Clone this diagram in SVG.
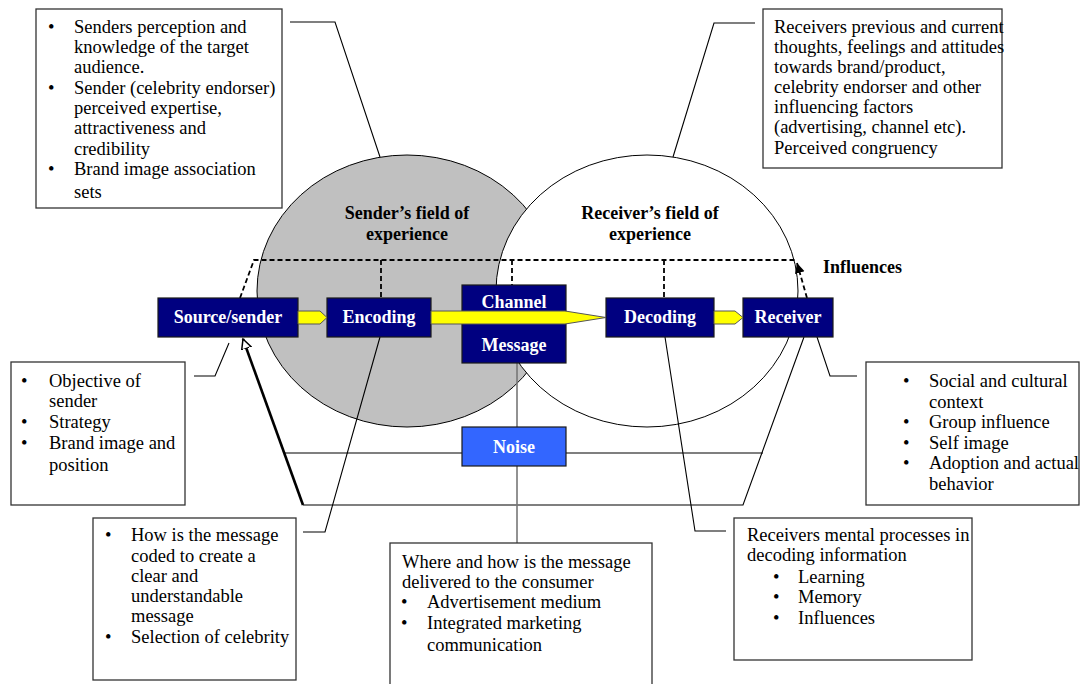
<svg xmlns="http://www.w3.org/2000/svg" width="1081" height="684" viewBox="0 0 1081 684">
<style>
.box{fill:#fff;stroke:#333;stroke-width:1.3}
.t{font-family:"Liberation Serif","Times New Roman",serif;font-size:18.5px;fill:#000}
.b{font-family:"Liberation Serif","Times New Roman",serif;font-size:18px;font-weight:bold;fill:#000}
.nt{font-family:"Liberation Serif","Times New Roman",serif;font-size:18px;font-weight:bold;fill:#fff;text-anchor:middle}
.node{fill:#000080;stroke:#1a1a1a;stroke-width:1.2}
.ln{fill:none;stroke:#000;stroke-width:1.1}
.dash{fill:none;stroke:#000;stroke-width:1.8;stroke-dasharray:5 3}
.yel{fill:#FFFF00;stroke:#555;stroke-width:1}
</style>
<defs>
<marker id="open" markerWidth="12" markerHeight="12" refX="10" refY="5" orient="auto" markerUnits="userSpaceOnUse">
<path d="M0,0 L10,5 L0,10 Z" fill="#fff" stroke="#000" stroke-width="1.5"/>
</marker>
<marker id="solid" markerWidth="12" markerHeight="12" refX="10" refY="5" orient="auto" markerUnits="userSpaceOnUse">
<path d="M0,0 L10,5 L0,10 Z" fill="#000"/>
</marker>
</defs>
<rect width="1081" height="684" fill="#fff"/>

<g id="fields">
<ellipse cx="407" cy="291" rx="150" ry="136" fill="#C0C0C0" stroke="#000" stroke-width="1"/>
<ellipse cx="647" cy="291" rx="151" ry="136" fill="#fff" stroke="#000" stroke-width="1"/>
<text class="b" x="407" y="219" text-anchor="middle">Sender’s field of</text>
<text class="b" x="407" y="240" text-anchor="middle">experience</text>
<text class="b" x="650" y="219" text-anchor="middle">Receiver’s field of</text>
<text class="b" x="650" y="240" text-anchor="middle">experience</text>
</g>

<g id="connectors">
<polyline class="ln" points="290,22 335,22 380,157"/>
<polyline class="ln" points="755,23 714,23 673,157"/>
<polyline class="ln" points="194,376 215,376 229,343"/>
<polyline class="ln" points="380,337 325,532 303,532"/>
<polyline class="ln" points="665,337 695,531 726,531"/>
<polyline class="ln" points="817,337 830,376 857,376"/>
<polyline class="ln" points="804,337 743,505 303,505"/>
<line class="ln" x1="284" y1="453" x2="462" y2="453"/>
<line class="ln" x1="566" y1="453" x2="763" y2="453"/>
<line x1="517" y1="363" x2="517" y2="543" stroke="#777" stroke-width="1.6"/>
<line x1="303" y1="505" x2="243" y2="339" stroke="#000" stroke-width="2.6" marker-end="url(#open)"/>
<polyline class="dash" points="240,298 254,260 796,260"/>
<line class="dash" x1="381" y1="260" x2="381" y2="298"/>
<line class="dash" x1="512" y1="260" x2="512" y2="285"/>
<line class="dash" x1="664" y1="260" x2="664" y2="298"/>
<line class="dash" x1="807" y1="298" x2="797" y2="263" marker-end="url(#solid)"/>
<text class="b" x="823" y="273">Influences</text>
</g>

<g id="source">
<rect class="node" x="158" y="298" width="140" height="39"/>
<text class="nt" x="228" y="323">Source/sender</text>
</g>
<g id="encoding">
<rect class="node" x="327" y="298" width="104" height="39"/>
<text class="nt" x="379" y="323">Encoding</text>
</g>
<g id="channel">
<rect class="node" x="462" y="285" width="104" height="78"/>
<text class="nt" x="514" y="308">Channel</text>
<text class="nt" x="514" y="351">Message</text>
</g>
<g id="decoding">
<rect class="node" x="606" y="298" width="108" height="39"/>
<text class="nt" x="660" y="323">Decoding</text>
</g>
<g id="receiver">
<rect class="node" x="743" y="298" width="90" height="39"/>
<text class="nt" x="788" y="323">Receiver</text>
</g>
<g id="flow-arrows">
<polygon class="yel" points="298,311 320,311 327,317.5 320,324 298,324"/>
<polygon class="yel" points="431,311 565,311 606,317.5 565,324 431,324"/>
<polygon class="yel" points="714,311 735,311 743,317.5 735,324 714,324"/>
</g>
<g id="noise">
<rect x="462" y="427" width="104" height="39" fill="#3366FF" stroke="#1a1a1a" stroke-width="1.2"/>
<text class="nt" x="514" y="453">Noise</text>
</g>

<g id="sender-notes">
<rect class="box" x="36" y="9" width="246" height="199"/>
<text class="t" x="48" y="33">•</text><text class="t" x="74" y="33">Senders perception and</text>
<text class="t" x="74" y="53">knowledge of the target</text>
<text class="t" x="74" y="73">audience.</text>
<text class="t" x="48" y="94">•</text><text class="t" x="74" y="94">Sender (celebrity endorser)</text>
<text class="t" x="74" y="114">perceived expertise,</text>
<text class="t" x="74" y="134">attractiveness and</text>
<text class="t" x="74" y="155">credibility</text>
<text class="t" x="48" y="175">•</text><text class="t" x="74" y="175">Brand image association</text>
<text class="t" x="74" y="198">sets</text>
</g>

<g id="receiver-notes">
<rect class="box" x="763" y="9" width="239" height="159"/>
<text class="t" x="774" y="33">Receivers previous and current</text>
<text class="t" x="774" y="53">thoughts, feelings and attitudes</text>
<text class="t" x="774" y="73">towards brand/product,</text>
<text class="t" x="774" y="93">celebrity endorser and other</text>
<text class="t" x="774" y="113">influencing factors</text>
<text class="t" x="774" y="133">(advertising, channel etc).</text>
<text class="t" x="774" y="154">Perceived congruency</text>
</g>

<g id="source-notes">
<rect class="box" x="11" y="362" width="174" height="143"/>
<text class="t" x="21" y="387">•</text><text class="t" x="49" y="387">Objective of</text>
<text class="t" x="49" y="407">sender</text>
<text class="t" x="21" y="428">•</text><text class="t" x="49" y="428">Strategy</text>
<text class="t" x="21" y="449">•</text><text class="t" x="49" y="449">Brand image and</text>
<text class="t" x="49" y="471">position</text>
</g>

<g id="encoding-notes">
<rect class="box" x="93" y="518" width="203" height="162"/>
<text class="t" x="105" y="541">•</text><text class="t" x="131" y="541">How is the message</text>
<text class="t" x="131" y="562">coded to create a</text>
<text class="t" x="131" y="582">clear and</text>
<text class="t" x="131" y="602">understandable</text>
<text class="t" x="131" y="622">message</text>
<text class="t" x="105" y="643">•</text><text class="t" x="131" y="643">Selection of celebrity</text>
</g>

<g id="channel-notes">
<rect class="box" x="390" y="543" width="262" height="150"/>
<text class="t" x="402" y="568">Where and how is the message</text>
<text class="t" x="402" y="588">delivered to the consumer</text>
<text class="t" x="401" y="608">•</text><text class="t" x="427" y="608">Advertisement medium</text>
<text class="t" x="401" y="629">•</text><text class="t" x="427" y="629">Integrated marketing</text>
<text class="t" x="427" y="651">communication</text>
</g>

<g id="decoding-notes">
<rect class="box" x="734" y="518" width="238" height="142"/>
<text class="t" x="747" y="541">Receivers mental processes in</text>
<text class="t" x="747" y="561">decoding information</text>
<text class="t" x="773" y="583">•</text><text class="t" x="798" y="583">Learning</text>
<text class="t" x="773" y="603">•</text><text class="t" x="798" y="603">Memory</text>
<text class="t" x="773" y="624">•</text><text class="t" x="798" y="624">Influences</text>
</g>

<g id="context-notes">
<rect class="box" x="866" y="362" width="213" height="143"/>
<text class="t" x="903" y="387">•</text><text class="t" x="929" y="387">Social and cultural</text>
<text class="t" x="929" y="408">context</text>
<text class="t" x="903" y="428">•</text><text class="t" x="929" y="428">Group influence</text>
<text class="t" x="903" y="449">•</text><text class="t" x="929" y="449">Self image</text>
<text class="t" x="903" y="469">•</text><text class="t" x="929" y="469">Adoption and actual</text>
<text class="t" x="929" y="490">behavior</text>
</g>
</svg>
